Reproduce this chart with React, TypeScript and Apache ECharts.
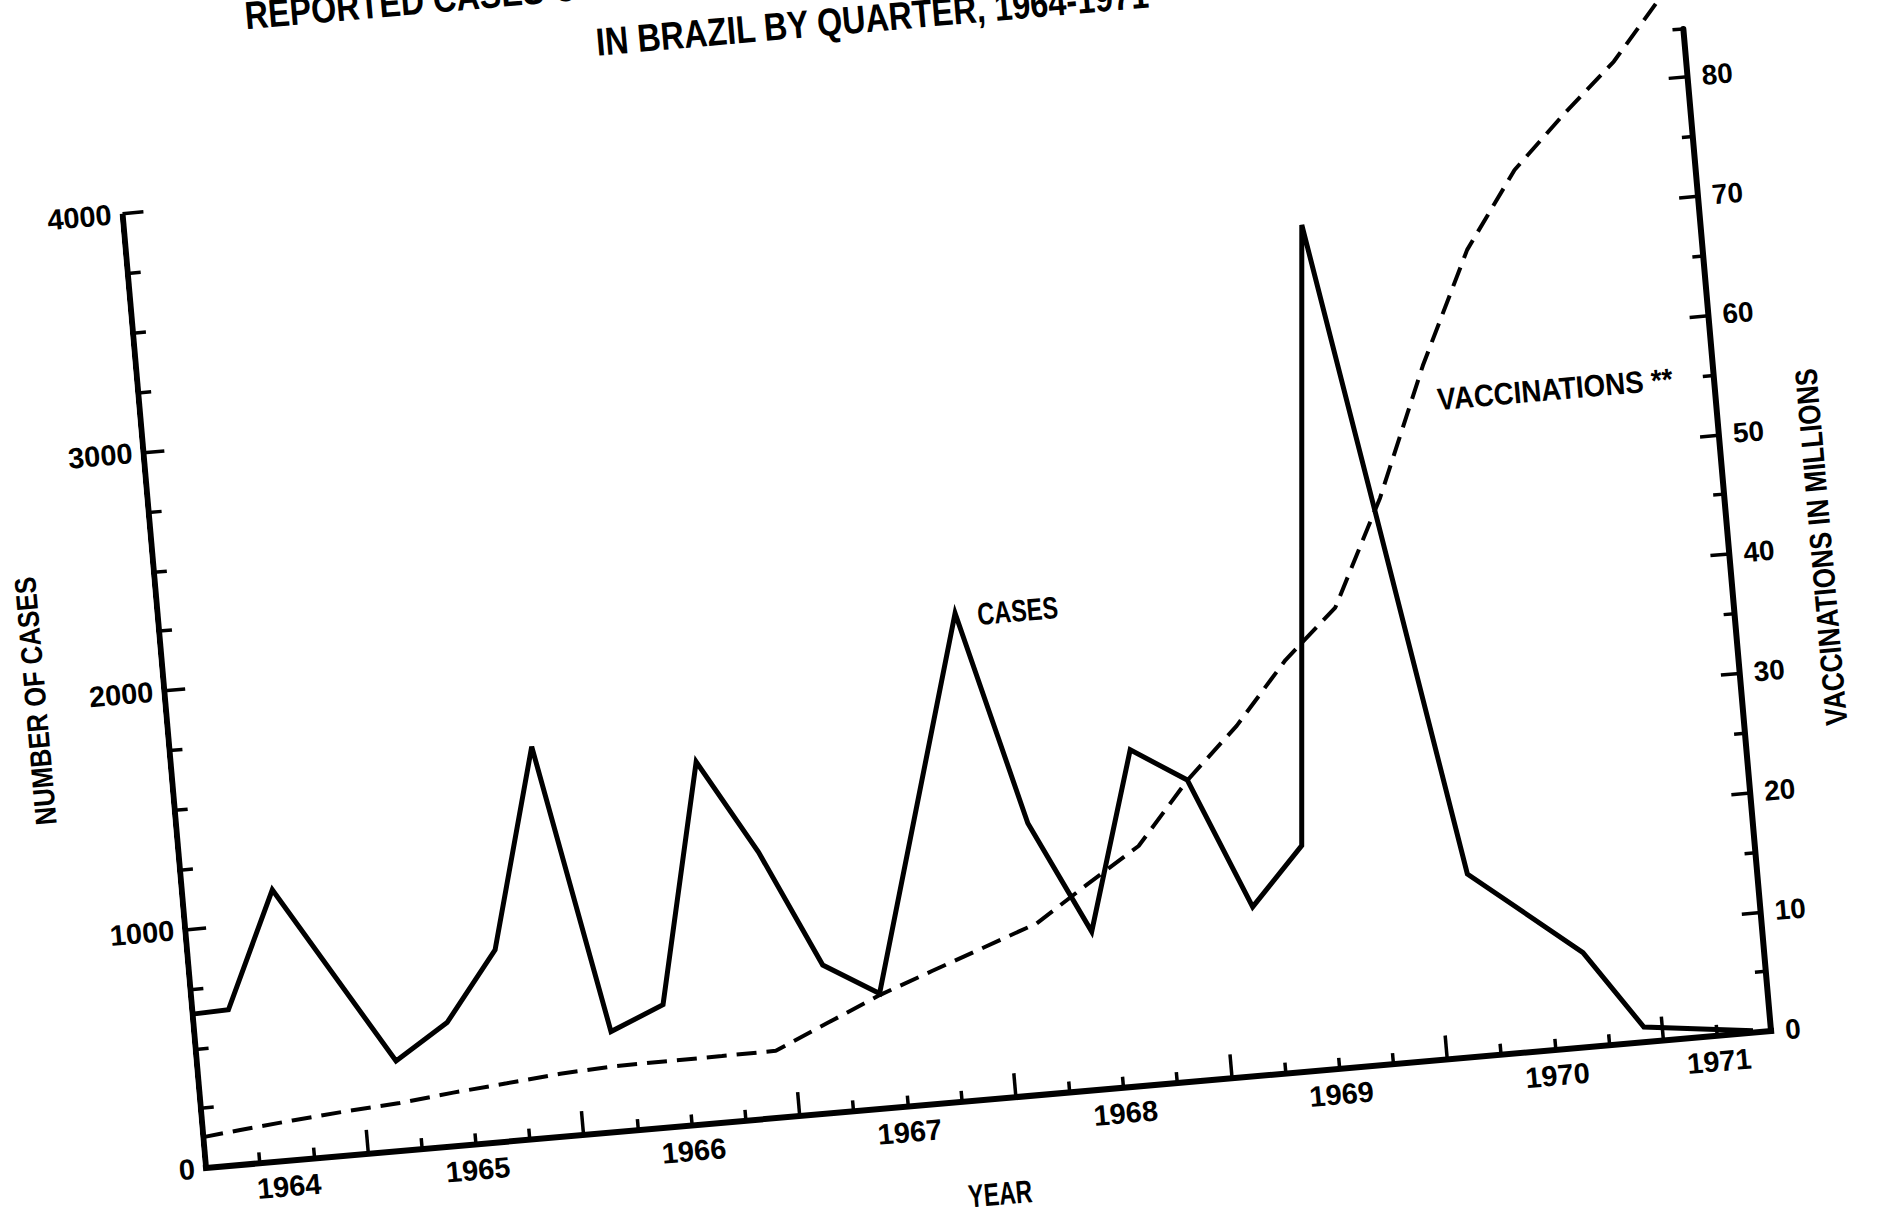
import React, { useEffect, useRef } from "react";
import * as echarts from "echarts";

const FONT = "'Liberation Sans', Arial, 'DejaVu Sans Condensed', sans-serif";

// ---- data ----
const X_MIN = 1964.25;
const X_MAX = 1971.5;

// reported cases, by quarter (plotted at the end of each quarter's middle month)
const casesYears = [1964.25, 1964.4167, 1964.6667, 1965.1667, 1965.4167, 1965.6667, 1965.9167, 1966.1667, 1966.4167, 1966.6667, 1966.9167, 1967.1667, 1967.4167, 1967.9167, 1968.1667, 1968.4167, 1968.6667, 1968.9167, 1969.1667, 1969.4167, 1969.6667, 1969.9167, 1970.1667, 1970.6667, 1970.9167, 1971.4167];
const casesValues = [645, 650, 1133, 376, 517, 802, 1634, 420, 513, 1511, 1113, 620, 481, 2035, 1135, 661, 1403, 1257, 705, 942, 3524, 2150, 764, 395, 63, 8];

// vaccinations, millions
const vaccYears = [1964.25, 1964.4167, 1964.6667, 1964.9167, 1965.1667, 1965.4167, 1965.6667, 1965.9167, 1966.1667, 1966.4167, 1966.6667, 1966.9167, 1967.1667, 1967.4167, 1967.6667, 1967.9167, 1968.1667, 1968.4167, 1968.6667, 1968.9167, 1969.1667, 1969.4167, 1969.6667, 1969.9167, 1970.1667, 1970.4167, 1970.6667, 1970.9167, 1971.1667, 1971.4167];
const vaccValues = [2.59, 2.9, 3.33, 3.7, 4.0, 4.47, 4.86, 5.26, 5.5, 5.53, 5.56, 5.6, 7.55, 9.48, 11.1, 12.7, 14.3, 17.2, 20.0, 25.1, 29.3, 34.4, 38.4, 47.2, 57.9, 67.2, 73.5, 77.8, 81.8, 87.0];

// annotation anchors
const casesLabelAnchor = [1967.9167, 2035];
const vaccLabelAnchor = [1970.22, 55.0];

// ---- tick / label positions ----
const yearTicks = [1965, 1966, 1967, 1968, 1969, 1970, 1971];
const quarterTicks = [
  1964.5, 1964.75,
  1965.25, 1965.5, 1965.75,
  1966.25, 1966.5, 1966.75,
  1967.25, 1967.5, 1967.75,
  1968.25, 1968.5, 1968.75,
  1969.25, 1969.5, 1969.75,
  1970.25, 1970.5, 1970.75,
  1971.25,
];
const yearLabelPositions = [1964.625, 1965.5, 1966.5, 1967.5, 1968.5, 1969.5, 1970.5, 1971.25];

const caseLabels = [0, 1000, 2000, 3000, 4000];
const caseMinorTicks = [250, 500, 750, 1250, 1500, 1750, 2250, 2500, 2750, 3250, 3500, 3750];
const vaccLabels = [0, 10, 20, 30, 40, 50, 60, 70, 80];
const vaccMinorTicks = [5, 15, 25, 35, 45, 55, 65, 75, 84];

const CASES_MAX = 4200;
const VACC_MAX = 84;

const TITLE_1 = "REPORTED CASES OF SMALLPOX AND VACCINATIONS";
const TITLE_2 = "IN BRAZIL BY QUARTER, 1964-1971";

let measureCtx: CanvasRenderingContext2D | null = null;
function measure(text: string, font: string): number {
  if (!measureCtx) measureCtx = document.createElement("canvas").getContext("2d");
  if (!measureCtx) return text.length * 10;
  measureCtx.font = font;
  return measureCtx.measureText(text).width || 1;
}

function textEl(text: string, px: number, target: number, x: number, y: number, align: string, rotation = 0, scaleOverride?: number) {
  const font = `bold ${px}px ${FONT}`;
  const scaleX = scaleOverride !== undefined ? scaleOverride : target / measure(text, font);
  return {
    type: "text",
    x,
    y,
    rotation,
    scaleX,
    scaleY: 1,
    silent: true,
    z: 10,
    style: { text, fill: "#000", font, align, verticalAlign: "middle" },
  };
}

const App: React.FC = () => {
  const ref = useRef<HTMLDivElement>(null);

  useEffect(() => {
    if (!ref.current) return;
    const chart = echarts.init(ref.current, undefined, { renderer: "svg" });
    const black = "#000";
    const labelBase = { fontFamily: FONT, fontWeight: "bold" as const, color: black };

    const option: any = {
      animation: false,
      backgroundColor: "#ffffff",
      textStyle: { fontFamily: FONT, fontWeight: "bold", color: black },
      grid: { left: 206, top: 162.1, width: 1571.1, height: 1005.9, containLabel: false },
      xAxis: [
        {
          type: "value",
          min: X_MIN,
          max: X_MAX,
          position: "bottom",
          axisLine: { show: true, lineStyle: { color: black, width: 6, cap: "square" } },
          axisTick: { show: true, inside: true, length: 11, customValues: quarterTicks, lineStyle: { color: black, width: 3.5 } },
          axisLabel: {
            show: true,
            customValues: yearLabelPositions,
            formatter: (v: number) => String(Math.floor(v)),
            margin: 11,
            fontSize: 29,
            ...labelBase,
          },
          splitLine: { show: false },
        },
        {
          type: "value",
          min: X_MIN,
          max: X_MAX,
          position: "bottom",
          axisLine: { show: false },
          axisTick: { show: true, inside: true, length: 24, customValues: yearTicks, lineStyle: { color: black, width: 3.5 } },
          axisLabel: { show: false },
          splitLine: { show: false },
        },
      ],
      yAxis: [
        {
          type: "value",
          min: 0,
          max: CASES_MAX,
          position: "left",
          axisLine: { show: false },
          axisTick: { show: true, inside: true, length: 21, customValues: caseLabels, lineStyle: { color: black, width: 3.5 } },
          axisLabel: { show: true, customValues: caseLabels, formatter: (v: number) => String(v), margin: 11, fontSize: 29, ...labelBase },
          splitLine: { show: false },
        },
        {
          type: "value",
          min: 0,
          max: CASES_MAX,
          position: "left",
          axisLine: { show: false },
          axisTick: { show: true, inside: true, length: 13, customValues: caseMinorTicks, lineStyle: { color: black, width: 3.5 } },
          axisLabel: { show: false },
          splitLine: { show: false },
        },
        {
          type: "value",
          min: 0,
          max: VACC_MAX,
          position: "right",
          axisLine: { show: true, lineStyle: { color: black, width: 6 } },
          axisTick: { show: true, inside: true, length: 19, customValues: vaccLabels, lineStyle: { color: black, width: 3.5 } },
          axisLabel: { show: true, customValues: vaccLabels, formatter: (v: number) => String(v), margin: 14, fontSize: 28, ...labelBase },
          splitLine: { show: false },
        },
        {
          type: "value",
          min: 0,
          max: VACC_MAX,
          position: "right",
          axisLine: { show: false },
          axisTick: { show: true, inside: true, length: 11, customValues: vaccMinorTicks, lineStyle: { color: black, width: 3.5 } },
          axisLabel: { show: false },
          splitLine: { show: false },
        },
      ],
      series: [
        {
          name: "Cases",
          type: "line",
          xAxisIndex: 0,
          yAxisIndex: 0,
          data: casesYears.map((x, i) => [x, casesValues[i]]),
          symbol: "none",
          lineStyle: { color: black, width: 5, join: "miter", miterLimit: 4 },
        },
        {
          name: "Vaccinations",
          type: "line",
          xAxisIndex: 0,
          yAxisIndex: 2,
          clip: false,
          data: vaccYears.map((x, i) => [x, vaccValues[i]]),
          symbol: "none",
          lineStyle: { color: black, width: 4, type: [20, 10] },
        },
        {
          name: "leftAxis",
          type: "line",
          xAxisIndex: 0,
          yAxisIndex: 0,
          clip: false,
          silent: true,
          data: [
            [X_MIN, 0],
            [X_MIN, 4000],
          ],
          symbol: "none",
          lineStyle: { color: black, width: 6 },
        },
      ],
    };

    chart.setOption(option);

    // annotation positions through the chart's own scales
    const casesPt = chart.convertToPixel({ seriesIndex: 0 }, casesLabelAnchor) as number[];
    const vaccPt = chart.convertToPixel({ seriesIndex: 1 }, vaccLabelAnchor) as number[];

    const titleScale = 556 / measure(TITLE_2, `bold 39px ${FONT}`);

    chart.setOption({
      graphic: [
        textEl(TITLE_1, 39, 0, 345, 24, "left", 0, titleScale),
        textEl(TITLE_2, 39, 556, 970, 81, "center"),
        textEl("NUMBER OF CASES", 30, 249, 77, 688, "center", Math.PI / 2),
        textEl("VACCINATIONS IN MILLIONS", 31, 358, 1869, 690, "center", Math.PI / 2),
        textEl("YEAR", 32, 64, 995, 1263, "center"),
        textEl("CASES", 31, 81, casesPt[0] + 22, casesPt[1] + 3, "left"),
        textEl("VACCINATIONS **", 31, 236, vaccPt[0], vaccPt[1], "left"),
      ],
    });

    return () => {
      chart.dispose();
    };
  }, []);

  return (
    <div
      style={{
        position: "fixed",
        left: 0,
        top: 0,
        width: "1878px",
        height: "1217px",
        overflow: "hidden",
        background: "#ffffff",
      }}
    >
      <div
        ref={ref}
        style={{
          position: "absolute",
          left: 0,
          top: 0,
          width: "2000px",
          height: "1320px",
          transform: "rotate(-5deg)",
          transformOrigin: "206px 1168px",
        }}
      />
    </div>
  );
};

export default App;
